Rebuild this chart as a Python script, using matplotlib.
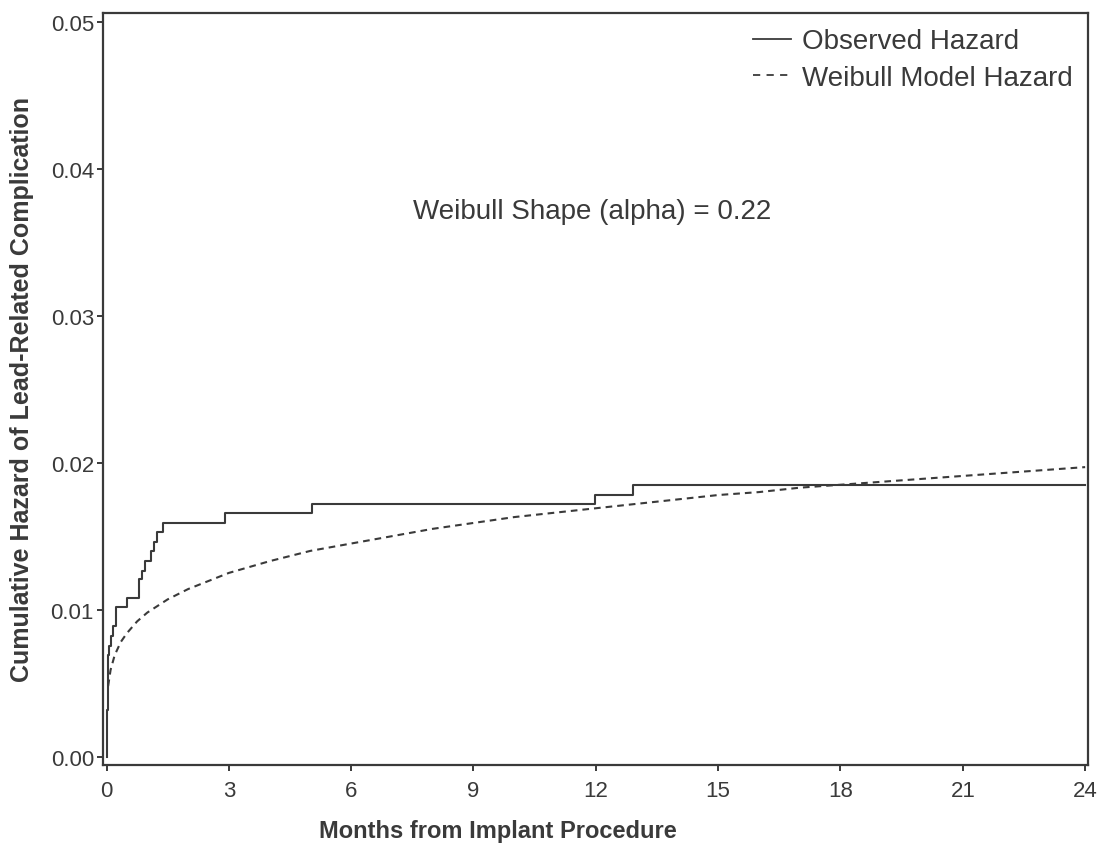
import matplotlib
matplotlib.use("Agg")
import matplotlib.pyplot as plt
from matplotlib.lines import Line2D

# Observed cumulative hazard (step function): event times (months) and levels
obs_time = [0.0, 0.005, 0.03, 0.06, 0.10, 0.15, 0.23, 0.50, 0.80, 0.86, 0.94,
            1.08, 1.16, 1.23, 1.39, 2.91, 5.05, 11.98, 12.9, 24.0]
obs_haz = [0.0, 0.0032, 0.0069, 0.0075, 0.0082, 0.0089, 0.0102, 0.0108, 0.0121,
           0.0126, 0.0133, 0.0140, 0.0146, 0.0153, 0.0159, 0.0166, 0.0172,
           0.0178, 0.0185, 0.0185]

# Weibull model cumulative hazard
wb_time = [0.04, 0.1, 0.2, 0.35, 0.5, 0.75, 1, 1.5, 2, 3, 4, 5, 6, 7, 8, 9, 10,
           11, 12, 13, 14, 15, 16, 17, 18, 19, 20, 21, 22, 23, 24]
wb_haz = [0.0048, 0.0059, 0.0069, 0.0078, 0.0084, 0.0092, 0.0098, 0.0107,
          0.0114, 0.0125, 0.0133, 0.0140, 0.0145, 0.0150, 0.0155, 0.0159,
          0.0163, 0.0166, 0.0169, 0.0172, 0.0175, 0.0178, 0.0180, 0.0183,
          0.0185, 0.0187, 0.0189, 0.0191, 0.0193, 0.0195, 0.0197]

x_ticks = [0, 3, 6, 9, 12, 15, 18, 21, 24]
y_ticks = [0.00, 0.01, 0.02, 0.03, 0.04, 0.05]
annotation = "Weibull Shape (alpha) = 0.22"
series_labels = ["Observed Hazard", "Weibull Model Hazard"]

C = "#3a3a3a"
DASH = (0, (3.2, 2.4))
plt.rcParams["font.family"] = ["Liberation Sans Narrow", "Liberation Sans", "DejaVu Sans"]

W, H = 1098, 845
L, R, T, B = 103, 1088, 14, 766
fig = plt.figure(figsize=(W / 100, H / 100), dpi=100)
ax = fig.add_axes([L / W, 1 - B / H, (R - L) / W, (B - T) / H])

ax.step(obs_time, obs_haz, where="post", color=C, lw=1.5)
ax.plot(wb_time, wb_haz, color=C, lw=1.5, ls=DASH)

ax.set_xlim(-0.086, 24.07)
ax.set_ylim(-0.00057, 0.0506)
ax.set_xticks(x_ticks)
ax.set_xticklabels([str(v) for v in x_ticks])
ax.set_yticks(y_ticks)
ax.set_yticklabels([f"{v:.2f}" for v in y_ticks])

for s in ["top", "right", "left", "bottom"]:
    ax.spines[s].set_color(C)
    ax.spines[s].set_linewidth(1.6)
ax.tick_params(axis="both", direction="out", length=4, width=1.4, color=C,
               labelcolor=C, labelsize=16)
ax.tick_params(axis="y", pad=2.5)
ax.tick_params(axis="x", pad=7)

ax.set_xlabel("Months from Implant Procedure", fontsize=17, fontweight="bold",
              color=C)
ax.xaxis.set_label_coords((498 - L) / (R - L), (B - 820) / (B - T))
ax.set_ylabel("Cumulative Hazard of Lead-Related Complication", fontsize=18,
              fontweight="bold", color=C, labelpad=12)

ax.text((592 - L) / (R - L), (B - 212) / (B - T), annotation,
        transform=ax.transAxes, fontsize=20, color=C, ha="center", va="center")

handles = [Line2D([], [], color=C, lw=1.3),
           Line2D([], [], color=C, lw=1.3, ls=(0, (4, 3.5)))]
ax.legend(handles, series_labels, loc="upper right", frameon=False,
          fontsize=20, handlelength=1.35, handletextpad=0.4, labelspacing=0.38,
          borderaxespad=0.3, borderpad=0.25, labelcolor=C)

fig.savefig("out.png", dpi=100)
